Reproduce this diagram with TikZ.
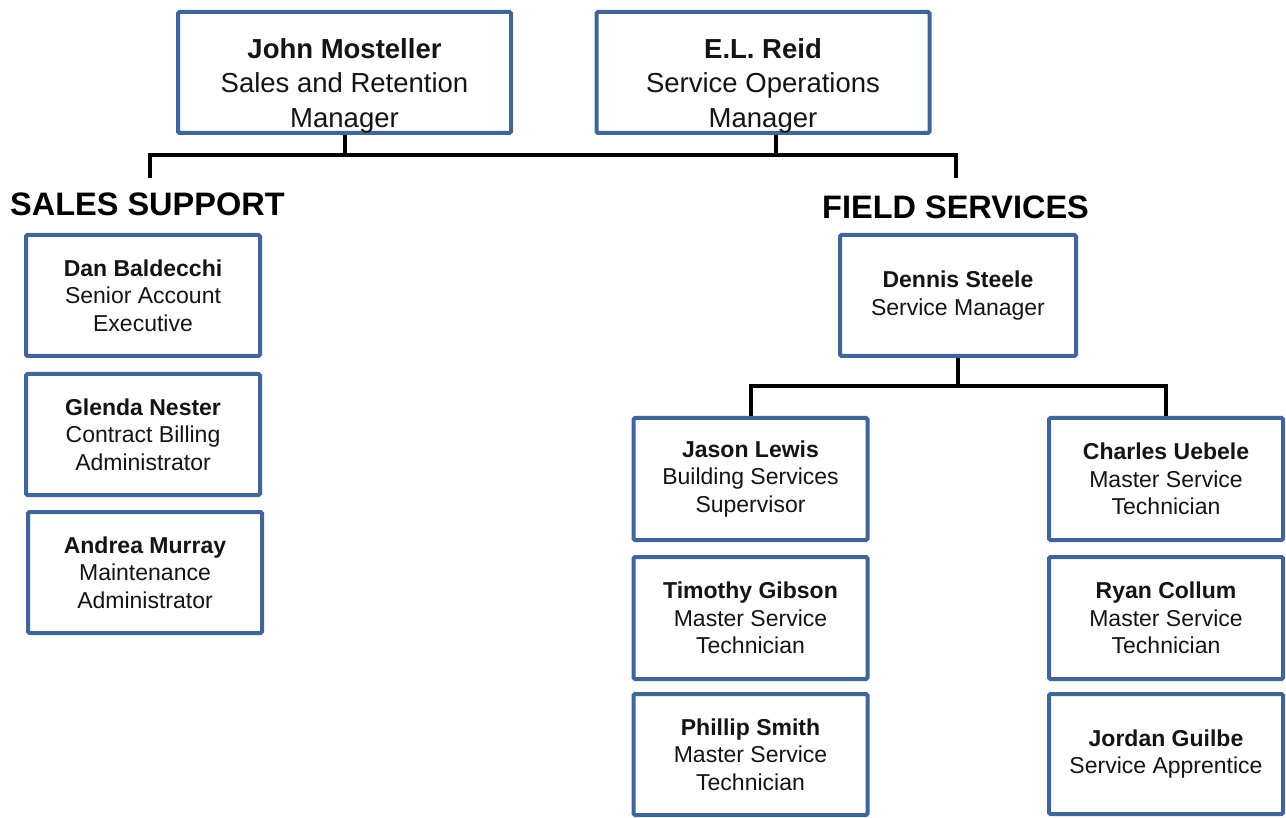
\documentclass[tikz,border=0pt]{standalone}
\usepackage{fontspec}
\setmainfont{Liberation Sans}
\definecolor{boxblue}{RGB}{64,101,150}
\definecolor{txt}{RGB}{20,20,20}
\begin{document}
\begin{tikzpicture}[x=1pt,y=-1pt,
  box/.style={draw=boxblue, line width=4pt, rounded corners=1.5pt, fill=white, inner sep=0pt},
  bigbox/.style={box, minimum width=333pt, minimum height=121pt},
  smallbox/.style={box, align=center, text=txt, minimum width=234pt, minimum height=121pt, font=\fontsize{23}{27.5}\selectfont},
  bigtext/.style={align=center, text=txt, inner sep=0pt, font=\fontsize{27.5}{34.5}\selectfont},
  headtext/.style={anchor=west, inner sep=0pt, text=black, font=\bfseries\fontsize{32.5}{36}\selectfont},
  conn/.style={line width=4pt, black}]
\useasboundingbox (0,0) rectangle (1286,818);

% top managers
\node[bigbox] (john) at (344.5,72.5) {};
\node[bigtext] (johnT) at (344.5,85.5) {\textbf{John Mosteller}\\Sales and Retention\\Manager};
\node[bigbox] (reid) at (763,72.5) {};
\node[bigtext] (reidT) at (763,85.5) {\textbf{E.L. Reid}\\Service Operations\\Manager};

% headers
\node[headtext] (sales) at (10,204) {SALES SUPPORT};
\node[headtext] (field) at (822,207) {FIELD SERVICES};

% connectors top
\coordinate (tbarL) at (150,155);
\coordinate (tbarR) at (956,155);
\coordinate (tendL) at (150,178);
\coordinate (tendR) at (956,178);
\coordinate (reidC) at (776,135);
\draw[conn] (tendL) -- (tbarL) -- (tbarR) -- (tendR);
\draw[conn] (john.south) -- (john.south |- tbarL);
\draw[conn] (reidC) -- (reidC |- tbarL);

% sales support
\node[smallbox] (dan) at (143,295.5) {\textbf{Dan Baldecchi}\\Senior Account\\Executive};
\node[smallbox] (glenda) at (143,434.5) {\textbf{Glenda Nester}\\Contract Billing\\Administrator};
\node[smallbox] (andrea) at (145,572.5) {\textbf{Andrea Murray}\\Maintenance\\Administrator};

% field services
\node[smallbox, minimum width=236pt] (dennis) at (958,295.5) {\textbf{Dennis Steele}\\Service Manager};
\coordinate (dbar) at (958,386);

\node[smallbox, minimum height=122pt] (jason) at (750.5,479) {\textbf{Jason Lewis}\\Building Services\\Supervisor};
\node[smallbox, minimum height=122pt] (timothy) at (750.5,618) {\textbf{Timothy Gibson}\\Master Service\\Technician};
\node[smallbox, minimum height=121pt] (phillip) at (750.5,754.5) {\textbf{Phillip Smith}\\Master Service\\Technician};

\node[smallbox, minimum height=122pt] (charles) at (1166,479) {\textbf{Charles Uebele}\\Master Service\\Technician};
\node[smallbox, minimum height=122pt] (ryan) at (1166,618) {\textbf{Ryan Collum}\\Master Service\\Technician};
\node[smallbox, minimum height=120pt] (jordan) at (1166,754) {\textbf{Jordan Guilbe}\\Service Apprentice};

\draw[conn] (dennis.south) -- (dbar);
\draw[conn] (jason.north) |- (dbar) -| (charles.north);
\end{tikzpicture}
\end{document}
